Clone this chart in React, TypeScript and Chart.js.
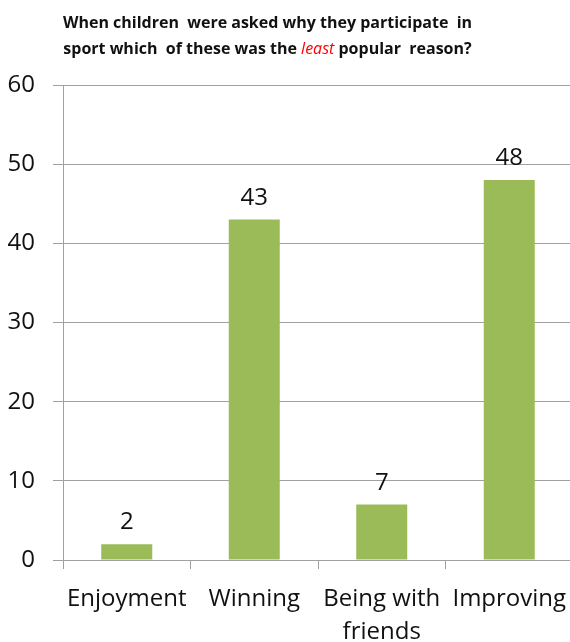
import React, { useEffect, useRef } from "react";
import { Chart, registerables } from "chart.js";

Chart.register(...registerables);

const categories: (string | string[])[] = ["Enjoyment", "Winning", ["Being with", "friends"], "Improving"];
const values: number[] = [2, 43, 7, 48];
const yTicks: number[] = [0, 10, 20, 30, 40, 50, 60];

const GRID = "#a0a0a0";
const BAR = "#9bbb59";
const FONT = "'Open Sans', sans-serif";

export default function App() {
  const ref = useRef<HTMLCanvasElement | null>(null);
  useEffect(() => {
    document.body.style.margin = "0";
    document.body.style.overflow = "hidden";
    const canvas = ref.current!;
    const labelPlugin = {
      id: "valueLabels",
      afterDatasetsDraw(chart: any) {
        const ctx = chart.ctx;
        const meta = chart.getDatasetMeta(0);
        ctx.save();
        ctx.fillStyle = "#111";
        ctx.font = `24px ${FONT}`;
        ctx.textAlign = "center";
        ctx.textBaseline = "alphabetic";
        meta.data.forEach((bar: any, i: number) => {
          ctx.fillText(String(values[i]), bar.x, bar.y - 15);
        });
        ctx.restore();
      },
    };
    const chart = new Chart(canvas, {
      type: "bar",
      data: {
        labels: categories as any,
        datasets: [
          {
            data: values,
            backgroundColor: BAR,
            borderWidth: 0,
            barPercentage: 0.4,
            categoryPercentage: 1.0,
          },
        ],
      },
      options: {
        responsive: false,
        animation: false,
        devicePixelRatio: 1,
        layout: { padding: { top: 85, left: 0, right: 0, bottom: 0 } },
        plugins: { legend: { display: false }, title: { display: false }, tooltip: { enabled: false } },
        scales: {
          x: {
            offset: true,
            grid: { display: true, drawOnChartArea: false, drawTicks: true, tickLength: 9, color: GRID, tickColor: GRID, offset: true },
            border: { display: true, color: GRID },
            ticks: { color: "#111", font: { family: FONT, size: 24, lineHeight: 1.4 }, padding: 13, maxRotation: 0, autoSkip: false },
            afterFit: (s: any) => {
              s.height = 82;
              s.paddingLeft = 0;
              s.paddingRight = 0;
            },
          },
          y: {
            min: 0,
            max: 60,
            afterBuildTicks: (s: any) => {
              s.ticks = yTicks.map((v) => ({ value: v }));
            },
            grid: { color: GRID, tickColor: GRID, drawTicks: true, tickLength: 10 },
            border: { display: true, color: GRID },
            ticks: { color: "#111", font: { family: FONT, size: 24 }, padding: 18 },
            afterFit: (s: any) => {
              s.width = 63;
              s.paddingTop = 0;
              s.paddingBottom = 0;
            },
          },
        },
      },
      plugins: [labelPlugin],
    });
    return () => chart.destroy();
  }, []);
  return (
    <div style={{ position: "relative", width: 573, height: 642 }}>
      <canvas ref={ref} width={573} height={642} style={{ position: "absolute", left: 0, top: 0 }} />
      <div
        style={{
          position: "absolute",
          left: 0,
          top: 9,
          width: 535,
          textAlign: "center",
          fontFamily: FONT,
          fontWeight: 700,
          fontSize: 16,
          lineHeight: "26px",
          color: "#111",
          whiteSpace: "pre",
        }}
      >
        <div>When children  were asked why they participate  in</div>
        <div>
          sport which  of these was the <span style={{ color: "#ff0000", fontStyle: "italic", fontWeight: 400 }}>least</span> popular  reason?
        </div>
      </div>
    </div>
  );
}
